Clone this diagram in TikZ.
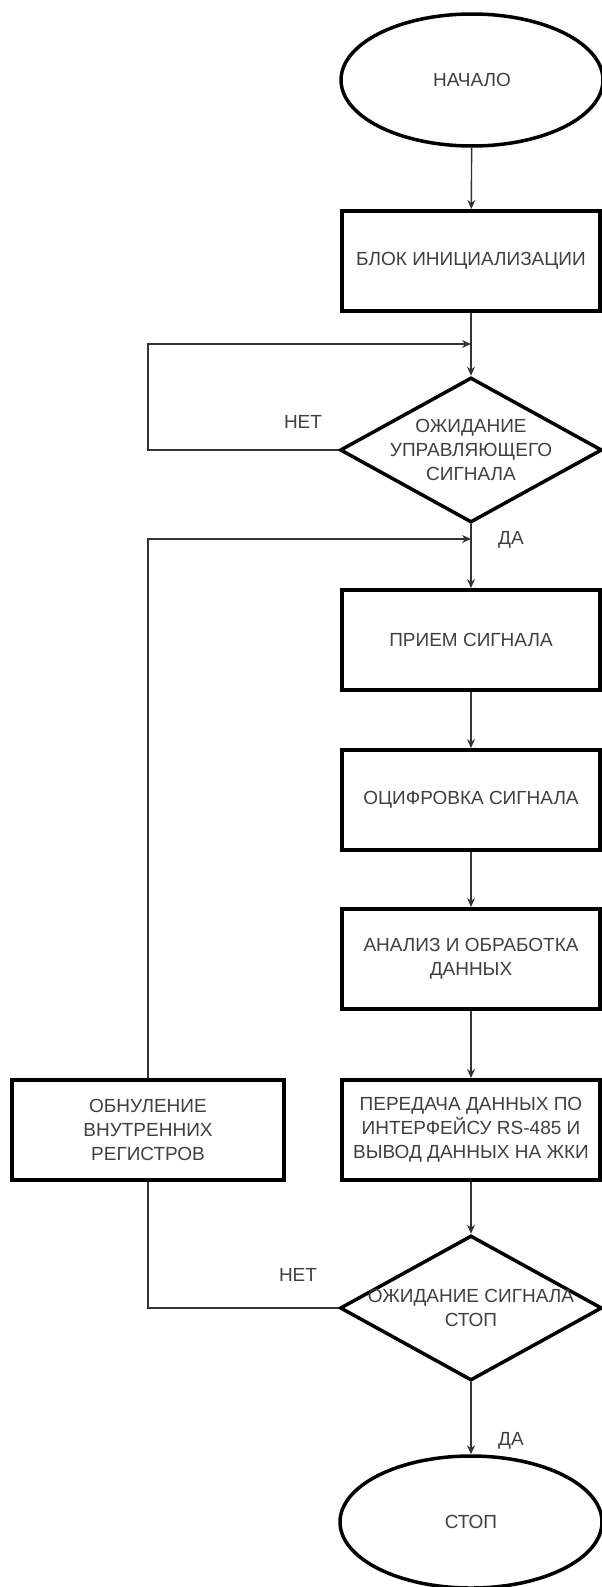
\documentclass[tikz,border=0pt]{standalone}
\usepackage{fontspec}
\setmainfont{Liberation Sans}
\usetikzlibrary{shapes.geometric, arrows.meta, positioning}

\tikzset{
  term/.style={ellipse, draw, line width=3.5pt, minimum width=262pt, minimum height=132pt, inner sep=0pt},
  block/.style={rectangle, draw, line width=4pt, minimum width=258pt, minimum height=100pt, align=center, inner sep=2pt},
  decision/.style={diamond, draw, line width=3.5pt, minimum width=262pt, minimum height=145pt, inner sep=0pt},
  flow/.style={draw=black!80, line width=1.4pt, -{Stealth[length=9pt,width=8pt]}},
  every node/.style={font=\fontsize{19}{24}\selectfont, text=black!75}
}

\begin{document}
\begin{tikzpicture}[x=1pt, y=-1pt]
    \useasboundingbox (0,0) rectangle (602,1587);
    \node [term] (start) at (472,80) {НАЧАЛО};
    \node [block] (init) at (471,261) {БЛОК ИНИЦИАЛИЗАЦИИ};
    \node [decision, label={[align=center]center:ОЖИДАНИЕ\\УПРАВЛЯЮЩЕГО\\СИГНАЛА}] (wait) at (471,450) {};
    \node [block] (recv) at (471,640) {ПРИЕМ СИГНАЛА};
    \node [block] (digit) at (471,800) {ОЦИФРОВКА СИГНАЛА};
    \node [block] (proc) at (471,959) {АНАЛИЗ И ОБРАБОТКА\\ДАННЫХ};
    \node [block] (send) at (471,1130) {ПЕРЕДАЧА ДАННЫХ ПО\\ИНТЕРФЕЙСУ RS-485 И\\ВЫВОД ДАННЫХ НА ЖКИ};
    \node [block, minimum width=272pt] (reset) at (148,1130) {ОБНУЛЕНИЕ\\ВНУТРЕННИХ\\РЕГИСТРОВ};
    \node [decision, label={[align=center]center:ОЖИДАНИЕ СИГНАЛА\\СТОП}] (stopq) at (471,1308) {};
    \node [term] (end) at (471,1522) {СТОП};
    \coordinate (j1) at (471,344);
    \coordinate (j2) at (471,539);
    % labels on the branches
    \node (no1) at (303,422) {НЕТ};
    \node (yes1) at (511,540) {ДА};
    \node (no2) at (298,1275) {НЕТ};
    \node (yes2) at (511,1441) {ДА};
    % connectors
    \draw [flow] (start) -- (init);
    \draw [flow] (init) -- (wait);
    \draw [flow] (wait.west) -- (wait.west -| reset.north) |- (j1);
    \draw [flow] (wait) -- (recv);
    \draw [flow] (reset.north) |- (j2);
    \draw [flow] (recv) -- (digit);
    \draw [flow] (digit) -- (proc);
    \draw [flow] (proc) -- (send);
    \draw [flow] (send) -- (stopq);
    \draw [draw=black!80, line width=1.4pt] (stopq.west) -| (reset.south);
    \draw [flow] (stopq) -- (end);
\end{tikzpicture}
\end{document}
